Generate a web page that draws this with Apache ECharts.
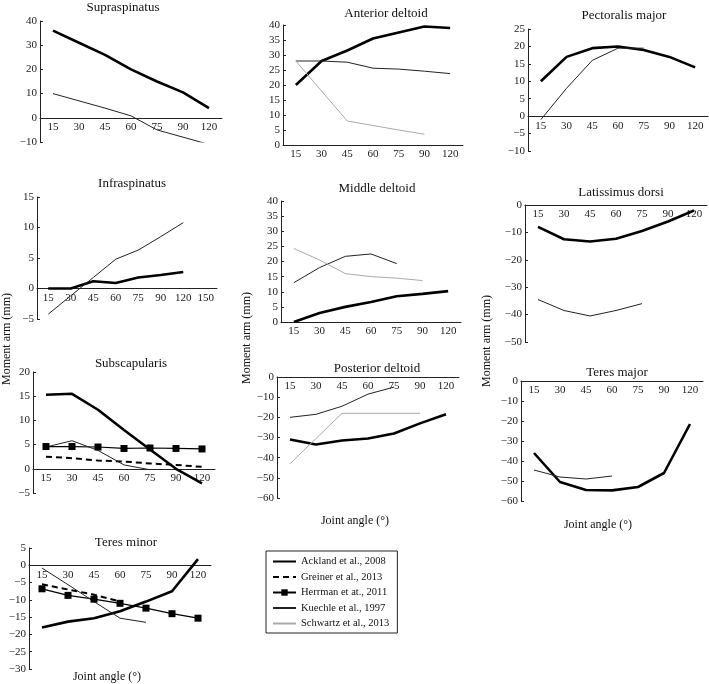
<!DOCTYPE html>
<html>
<head>
<meta charset="utf-8">
<script src="https://cdn.jsdelivr.net/npm/echarts@6/dist/echarts.min.js"></script>
<style>
  html, body { margin: 0; padding: 0; background: #fff; }
  #chart { width: 709px; height: 684px; }
</style>
</head>
<body>
<div id="chart"></div>
<script>
// joint angles (categorical, equally spaced)
const angles = ['15', '30', '45', '60', '75', '90', '120']
const anglesInfra = ['15', '30', '45', '60', '75', '90', '120', '150']

// Supraspinatus
const supraAckland = [36, 31, 26, 20, 15, 10.5, 4]
const supraKuechle = [10, 7, 4, 0.8, -5, -8, -11]
// Anterior deltoid
const antAckland = [20, 28, 31.5, 35.5, 37.5, 39.5, 39]
const antKuechle = [28, 28, 27.6, 25.6, 25.3, 24.6, 23.8]
const antSchwartz = [28, 18, 8, 6.5, 5, 3.6, null]
// Pectoralis major
const pectAckland = [10, 17, 19.5, 20, 19, 17, 14]
const pectKuechle = [-1, 8, 16, 19.5, 19.5, null, null]
// Infraspinatus
const infraAckland = [0, 0, 1.2, 0.9, 1.8, 2.2, 2.7, null]
const infraKuechle = [-4.2, -1.2, 1.8, 4.8, 6.3, 8.5, 10.8, null]
// Middle deltoid
const midAckland = [0, 3, 5, 6.6, 8.5, 9.3, 10.2]
const midKuechle = [13, 18, 21.7, 22.5, 19.3, null, null]
const midSchwartz = [24.3, 20.5, 16, 15, 14.5, 13.7, null]
// Latissimus dorsi
const latAckland = [-8, -12.5, -13.3, -12.3, -9.5, -6, -2]
const latKuechle = [-34.5, -38.5, -40.5, -38.5, -36, null, null]
// Subscapularis
const subAckland = [15.3, 15.5, 12.2, 8, 4, 0, -3]
const subGreiner = [2.5, 2.2, 1.7, 1.5, 1.1, 0.8, 0.4]
const subHerrman = [4.6, 4.6, 4.5, 4.2, 4.3, 4.2, 4.1]
const subKuechle = [4.5, 5.8, 3.8, 0.8, -0.2, null, null]
// Posterior deltoid
const postAckland = [-31, -33.5, -31.5, -30.5, -28, -23, -18.5]
const postKuechle = [-20, -18.5, -14.5, -8.5, -5, null, null]
const postSchwartz = [-43, -30.5, -18, -18, -18, -18, null]
// Teres major
const tmajAckland = [-36, -50.5, -54.5, -54.7, -53, -46, -21.5]
const tmajKuechle = [-44.5, -48, -49, -47.5, null, null, null]
// Teres minor
const tminAckland = [-18, -16.3, -15.3, -13.3, -10.5, -7.5, 1.8]
const tminGreiner = [-5.5, -7, -8.5, -10.5, null, null, null]
const tminHerrman = [-6.8, -8.7, -9.8, -11, -12.4, -14, -15.3]
const tminKuechle = [-0.8, -5.6, -10.5, -15.3, -16.5, null, null]

const studies = ['Ackland et al., 2008', 'Greiner et al., 2013', 'Herrman et at., 2011', 'Kuechle et al., 1997', 'Schwartz et al., 2013']

const FONT = 'Liberation Serif'

// panel layout: title, grid box, y range, categories, series
const panels = [
  { title: 'Supraspinatus', tx: 123, ty: 8, box: [40, 21, 182, 121], y: [-10, 40, 10], cats: angles,
    lines: [[0, supraAckland], [3, supraKuechle]] },
  { title: 'Anterior deltoid', tx: 386, ty: 14, box: [283, 25, 180, 120], y: [0, 40, 5], cats: angles,
    lines: [[0, antAckland], [3, antKuechle], [4, antSchwartz]] },
  { title: 'Pectoralis major', tx: 624, ty: 16, box: [528, 29, 180, 122], y: [-10, 25, 5], cats: angles,
    lines: [[0, pectAckland], [3, pectKuechle]] },
  { title: 'Infraspinatus', tx: 132, ty: 184, box: [37, 197, 180, 122], y: [-5, 15, 5], cats: anglesInfra,
    lines: [[0, infraAckland], [3, infraKuechle]] },
  { title: 'Middle deltoid', tx: 377, ty: 189, box: [281, 201, 180, 121], y: [0, 40, 5], cats: angles,
    lines: [[0, midAckland], [3, midKuechle], [4, midSchwartz]] },
  { title: 'Latissimus dorsi', tx: 621, ty: 193, box: [525, 205, 182, 137], y: [-50, 0, 10], cats: angles,
    lines: [[0, latAckland], [3, latKuechle]] },
  { title: 'Subscapularis', tx: 131, ty: 364, box: [33, 372, 182, 121], y: [-5, 20, 5], cats: angles,
    lines: [[0, subAckland], [1, subGreiner], [2, subHerrman], [3, subKuechle]] },
  { title: 'Posterior deltoid', tx: 377, ty: 369, box: [277, 377, 182, 121], y: [-60, 0, 10], cats: angles,
    lines: [[0, postAckland], [3, postKuechle], [4, postSchwartz]] },
  { title: 'Teres major', tx: 617, ty: 373, box: [521, 381, 182, 120], y: [-60, 0, 10], cats: angles,
    lines: [[0, tmajAckland], [3, tmajKuechle]] },
  { title: 'Teres minor', tx: 126, ty: 543, box: [29, 548, 182, 121], y: [-30, 5, 5], cats: angles,
    lines: [[0, tminAckland], [1, tminGreiner], [2, tminHerrman], [3, tminKuechle]] }
]

function styleFor (k) {
  if (k === 0) return { lineStyle: { color: '#000', width: 2.6 }, symbol: 'none' }
  if (k === 1) return { lineStyle: { color: '#000', width: 2, type: [6, 4] }, symbol: 'none' }
  if (k === 2) return { lineStyle: { color: '#000', width: 1.2 }, symbol: 'rect', symbolSize: 7, itemStyle: { color: '#000' } }
  if (k === 3) return { lineStyle: { color: '#222', width: 1 }, symbol: 'none' }
  return { lineStyle: { color: '#aaa', width: 1 }, symbol: 'none' }
}
const legendColor = ['#000', '#000', '#000', '#222', '#aaa']

const grid = []
const xAxis = []
const yAxis = []
const series = []
const graphic = []

panels.forEach((p, i) => {
  grid.push({ left: p.box[0], top: p.box[1], width: p.box[2], height: p.box[3] })
  // put the category axis (line + labels) on y = 0
  const zeroOffset = p.y[0] < 0 ? -p.box[3] * (0 - p.y[0]) / (p.y[1] - p.y[0]) : 0
  xAxis.push({
    type: 'category',
    gridIndex: i,
    data: p.cats,
    position: 'bottom',
    offset: zeroOffset,
    axisLine: { onZero: false, lineStyle: { color: '#222', width: 1 } },
    axisTick: { alignWithLabel: true, interval: 0, length: 3, lineStyle: { color: '#222' } },
    axisLabel: { interval: 0, margin: 4, color: '#222', fontSize: 11, fontFamily: FONT }
  })
  yAxis.push({
    type: 'value',
    gridIndex: i,
    min: p.y[0],
    max: p.y[1],
    interval: p.y[2],
    axisLine: { show: true, lineStyle: { color: '#222', width: 1 } },
    axisTick: { show: true, inside: true, length: 3, lineStyle: { color: '#222' } },
    splitLine: { show: false },
    axisLabel: {
      margin: 3, color: '#222', fontSize: 11, fontFamily: FONT,
      formatter: v => String(v).replace('-', '\u2212')
    }
  })
  p.lines.forEach(([k, vals]) => {
    series.push(Object.assign({
      type: 'line',
      name: studies[k],
      xAxisIndex: i,
      yAxisIndex: i,
      data: vals,
      color: legendColor[k],
      connectNulls: false
    }, styleFor(k)))
  })
  graphic.push({
    type: 'text', x: p.tx, y: p.ty,
    style: { text: p.title, fontFamily: FONT, fontSize: 13, fill: '#111', align: 'center', verticalAlign: 'middle' }
  })
})

// shared axis titles
const yTitles = [[7, 339], [247, 338], [487, 341]]
yTitles.forEach(([x, y]) => {
  graphic.push({
    type: 'text', x: x, y: y, rotation: Math.PI / 2,
    style: { text: 'Moment arm (mm)', fontFamily: FONT, fontSize: 12, fill: '#111', align: 'center', verticalAlign: 'middle' }
  })
})
const xTitles = [[355, 521], [598, 525], [107, 677]]
xTitles.forEach(([x, y]) => {
  graphic.push({
    type: 'text', x: x, y: y,
    style: { text: 'Joint angle (°)', fontFamily: FONT, fontSize: 12, fill: '#111', align: 'center', verticalAlign: 'middle' }
  })
})

// legend entries: hide the marker for plain line series
const legendData = studies.map((name, k) => k === 2
  ? { name: name }
  : { name: name, itemStyle: { color: 'rgba(0,0,0,0)', borderWidth: 0 } })

const chart = echarts.init(document.getElementById('chart'))
chart.setOption({
  animation: false,
  backgroundColor: '#fff',
  grid: grid,
  xAxis: xAxis,
  yAxis: yAxis,
  series: series,
  graphic: graphic,
  legend: {
    data: legendData,
    orient: 'vertical',
    left: 266,
    top: 551,
    itemWidth: 23,
    itemHeight: 8,
    itemGap: 4.5,
    padding: [5, 8, 4, 6],
    borderColor: '#222',
    borderWidth: 1,
    textStyle: { fontFamily: FONT, fontSize: 10.5, color: '#111' }
  }
})
</script>
</body>
</html>
